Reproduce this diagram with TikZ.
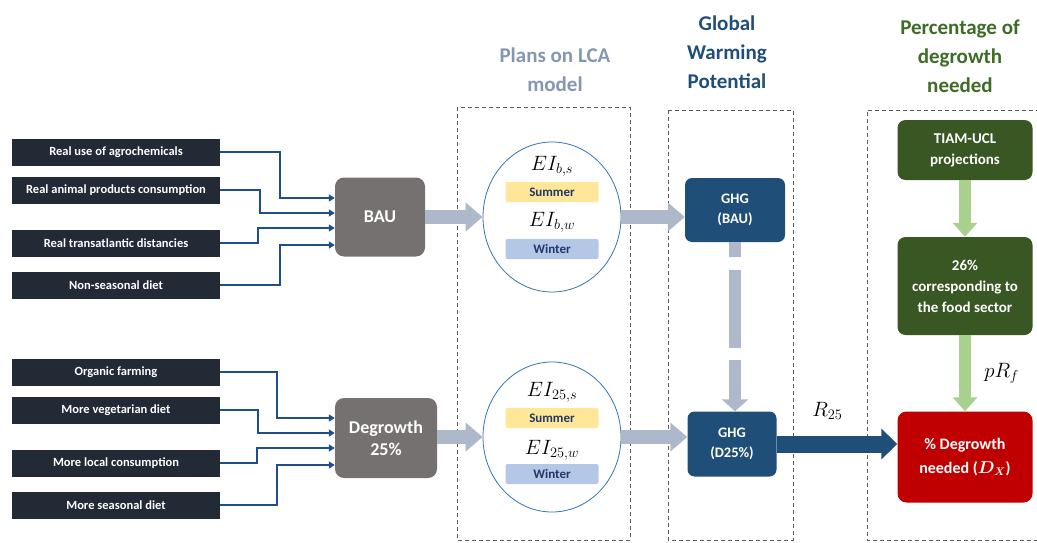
\documentclass[tikz,border=0pt]{standalone}
\usepackage{amsmath}
\usepackage{fontspec}
\setmainfont{Carlito}
\usetikzlibrary{arrows.meta,shapes.geometric}
\definecolor{navy}{HTML}{222A35}
\definecolor{wireblue}{HTML}{1F4E8C}
\definecolor{scengray}{HTML}{767171}
\definecolor{fatgray}{HTML}{ADB9CA}
\definecolor{lcatitle}{HTML}{8497B0}
\definecolor{gwpblue}{HTML}{1F4E79}
\definecolor{pctgreen}{HTML}{3E6B25}
\definecolor{boxgreen}{HTML}{385723}
\definecolor{lightgreen}{HTML}{A9D18E}
\definecolor{needred}{HTML}{C00000}
\definecolor{circblue}{HTML}{2E75B6}
\definecolor{summer}{HTML}{FFE699}
\definecolor{winter}{HTML}{B4C7E7}
\definecolor{seasontext}{HTML}{1F3864}
\definecolor{zonegray}{HTML}{595959}

\begin{document}
\begin{tikzpicture}[x=1pt, y=-1pt,
	inbox/.style={fill=navy, text=white, font=\fontsize{12.5}{14}\selectfont\bfseries, minimum width=208pt, minimum height=27pt, inner sep=0pt},
	wire/.style={draw=wireblue, line width=1.6pt, -{Triangle[length=6pt, width=7pt]}},
	scen/.style={fill=scengray, rounded corners=9pt, text=white, font=\fontsize{18}{22}\selectfont\bfseries, align=center, inner sep=0pt},
	fat/.style={draw=fatgray, line width=14pt, -{Triangle[length=17pt, width=28pt]}},
	zone/.style={draw=zonegray, dash pattern={on 4pt off 3pt}, line width=0.7pt},
	heading/.style={font=\fontsize{21}{29}\selectfont\bfseries, align=center},
	plan/.style={ellipse, draw=circblue, line width=0.8pt, minimum width=138pt, minimum height=150pt, inner sep=0pt},
	season/.style={rounded corners=2pt, minimum width=93pt, minimum height=20pt, inner sep=0pt, text=seasontext, font=\fontsize{13}{15}\selectfont\bfseries},
	eilabel/.style={font=\fontsize{22}{24}\selectfont, inner sep=0pt},
	ghg/.style={fill=gwpblue, rounded corners=7pt, text=white, font=\fontsize{14.5}{20}\selectfont\bfseries, align=center, inner sep=0pt},
	greenbox/.style={fill=boxgreen, rounded corners=8pt, text=white, font=\fontsize{15}{21}\selectfont\bfseries, align=center, inner sep=0pt, minimum width=135pt}]
	\useasboundingbox (0, 0) rectangle (1037, 543);
	% Paths, nodes and wires:
	\draw[zone] (457, 107) rectangle (630, 540);
	\draw[zone] (668, 110) rectangle (793, 540);
	\draw[zone] (1040, 110) -- (867, 110) -- (867, 540) -- (1040, 540);
	\node[heading, text=lcatitle] (tlca) at (555, 70){Plans on LCA\\model};
	\node[heading, text=gwpblue] (tgwp) at (727, 52){Global\\Warming\\Potential};
	\node[heading, text=pctgreen] (tpct) at (960, 56){Percentage of\\degrowth\\needed};
	% inputs of the two scenarios
	\node[inbox] (agro) at (116, 152){Real use of agrochemicals};
	\node[inbox] (animal) at (116, 190){Real animal products consumption};
	\node[inbox] (dist) at (116, 243){Real transatlantic distancies};
	\node[inbox] (nonseas) at (116, 285){Non-seasonal diet};
	\node[inbox] (organic) at (116, 372){Organic farming};
	\node[inbox] (veg) at (116, 410){More vegetarian diet};
	\node[inbox] (local) at (116, 463){More local consumption};
	\node[inbox] (seas) at (116, 505){More seasonal diet};
	\node[scen, minimum width=90pt, minimum height=79pt] (bau) at (380, 217){BAU};
	\node[scen, minimum width=102pt, minimum height=80pt] (dg) at (386, 438){Degrowth\\25\%};
	\draw[wire] (agro.east) -| (280, 198) -- (bau.west |- 0, 198);
	\draw[wire] (animal.east) -| (260, 213) -- (bau.west |- 0, 213);
	\draw[wire] (dist.east) -| (258, 228) -- (bau.west |- 0, 228);
	\draw[wire] (nonseas.east) -| (280, 245) -- (bau.west |- 0, 245);
	\draw[wire] (organic.east) -| (277, 418) -- (dg.west |- 0, 418);
	\draw[wire] (veg.east) -| (258, 433) -- (dg.west |- 0, 433);
	\draw[wire] (local.east) -| (257, 448) -- (dg.west |- 0, 448);
	\draw[wire] (seas.east) -| (277, 465) -- (dg.west |- 0, 465);
	% LCA plans
	\node[plan] (lcab) at (552, 217){};
	\node[plan] (lcad) at (552, 437){};
	\node[eilabel] (eibs) at (552, 166){$EI_{b,s}$};
	\node[season, fill=summer] (sumb) at (552, 192){Summer};
	\node[eilabel] (eibw) at (552, 222){$EI_{b,w}$};
	\node[season, fill=winter] (winb) at (552, 249){Winter};
	\node[eilabel] (eids) at (552, 392){$EI_{25,s}$};
	\node[season, fill=summer] (sumd) at (552, 418){Summer};
	\node[eilabel] (eidw) at (552, 450){$EI_{25,w}$};
	\node[season, fill=winter] (wind) at (552, 474){Winter};
	\draw[fat] (bau.east) -- (lcab.west);
	\draw[fat] (dg.east |- lcad.west) -- (lcad.west);
	% global warming potential
	\node[ghg, minimum width=100pt, minimum height=64pt] (gbau) at (735, 210){GHG\\(BAU)};
	\node[ghg, minimum width=89pt, minimum height=65pt] (gd) at (732, 444){GHG\\(D25\%)};
	\draw[fat] (lcab.east) -- (lcab.east -| gbau.west);
	\draw[fat] (lcad.east) -- (lcad.east -| gd.west);
	\draw[fat, line width=12pt, -{Triangle[length=12pt, width=26pt]}, dash pattern={on 15pt off 13pt on 78pt off 12pt on 80pt}] (gbau.south) -- (gbau.south |- gd.north);
	% degrowth needed
	\node[greenbox, minimum height=60pt] (tiam) at (965, 150){TIAM-UCL\\projections};
	\node[greenbox, minimum height=98pt] (food) at (965, 286){26\%\\corresponding to\\the food sector};
	\node[fill=needred, rounded corners=9pt, text=white, font=\fontsize{16}{24}\selectfont\bfseries, align=center, inner sep=0pt, minimum width=135pt, minimum height=91pt] (need) at (965, 457){\% Degrowth\\needed ($\boldsymbol{D_X}$)};
	\draw[fat, draw=lightgreen, line width=12pt, -{Triangle[length=14pt, width=24pt]}] (tiam.south) -- (food.north);
	\draw[fat, draw=lightgreen, line width=12pt, -{Triangle[length=14pt, width=24pt]}] (food.south) -- (need.north) node[midway, right=10pt, font=\fontsize{21}{24}\selectfont, text=black]{$pR_f$};
	\draw[fat, draw=gwpblue, line width=17pt, -{Triangle[length=16pt, width=30pt]}] (gd.east) -- (gd.east -| need.west) node[pos=0.42, above=13pt, font=\fontsize{21}{24}\selectfont, text=black]{$R_{25}$};
\end{tikzpicture}
\end{document}
